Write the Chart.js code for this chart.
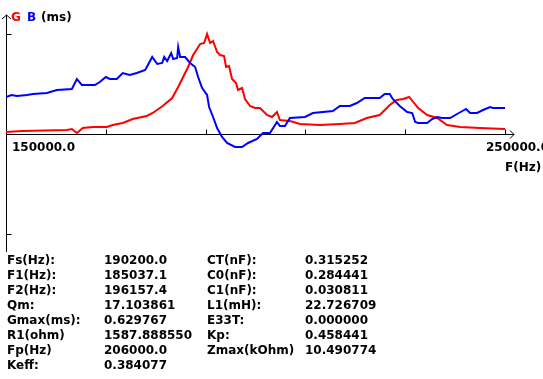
<!DOCTYPE html>
<html lang="en">
<head>
    <meta charset="UTF-8">
    <title>G B (ms)</title>
    <script src="https://cdn.jsdelivr.net/npm/chart.js"></script>
    <style>
        body { margin: 0; background: #fff; }
        #wrap { position: relative; width: 543px; height: 379px; overflow: hidden; }
        .t { position: absolute; font-family: "DejaVu Sans", sans-serif; font-weight: bold; font-size: 12px; color: #000; white-space: nowrap; line-height: 15px; }
        .col { top: 253px; }
    </style>
</head>
<body>
<div id="wrap">
    <canvas id="chart" width="543" height="379"></canvas>

    <!-- titre / axes -->
    <span class="t" style="left:11px;top:10px;color:#ff0000">G</span>
    <span class="t" style="left:27px;top:10px;color:#0000ff">B</span>
    <span class="t" style="left:41px;top:10px">(ms)</span>
    <span class="t" style="left:12px;top:140px">150000.0</span>
    <span class="t" style="left:486px;top:140px">250000.0</span>
    <span class="t" style="left:505px;top:160px">F(Hz)</span>

    <!-- parametres -->
    <div class="t col" style="left:7px" id="lab1"></div>
    <div class="t col" style="left:104px" id="val1"></div>
    <div class="t col" style="left:207px" id="lab2"></div>
    <div class="t col" style="left:305px" id="val2"></div>
</div>

<script>
    // frequences (Hz) et conductance G (unite = graduation)
    const gFreq = [150000, 153200, 162200, 163200, 164200, 165400, 167400, 170200, 171400, 173400,
        175400, 178200, 179400, 181400, 183300, 184500, 185500, 186500, 187500, 188900,
        189700, 190300, 190900, 191500, 192300, 192900, 193700, 194100, 194700, 195300,
        196100, 196500, 197300, 197900, 198900, 199900, 200900, 202300, 203300, 204300,
        204900, 206900, 208900, 212900, 216900, 219900, 222300, 224900, 226900, 228300,
        229600, 230800, 231600, 232600, 234400, 236400, 238400, 241000, 245000, 250000];
    const gValues = [0.02, 0.03, 0.04, 0.05, 0.01, 0.06, 0.07, 0.07, 0.09, 0.11,
        0.15, 0.18, 0.21, 0.28, 0.36, 0.47, 0.57, 0.67, 0.79, 0.90,
        0.91, 1.00, 0.91, 0.93, 0.82, 0.79, 0.78, 0.67, 0.68, 0.55,
        0.51, 0.44, 0.46, 0.35, 0.28, 0.26, 0.26, 0.19, 0.17, 0.22,
        0.14, 0.13, 0.10, 0.09, 0.10, 0.11, 0.16, 0.19, 0.29, 0.34,
        0.35, 0.37, 0.32, 0.26, 0.19, 0.16, 0.09, 0.07, 0.06, 0.05];

    // susceptance B
    const bFreq = [150000, 151100, 152200, 154200, 155400, 158200, 160200, 163200, 164200, 165200,
        167800, 168800, 170000, 170800, 172200, 173400, 174800, 176200, 177900, 179300,
        180300, 181300, 181700, 182300, 183100, 183500, 184300, 184500, 184900, 185900,
        186900, 187900, 188500, 189300, 190300, 190700, 191500, 192300, 193300, 194300,
        195900, 197300, 198500, 200300, 201500, 202900, 204300, 204900, 205900, 206900,
        209900, 211500, 215500, 216900, 218900, 220300, 221900, 224900, 225900, 226900,
        227500, 228900, 230400, 231400, 232000, 232600, 234400, 235400, 236400, 237400,
        239000, 240400, 242200, 243000, 244400, 245600, 247000, 247600, 250000];
    const bValues = [0.37, 0.39, 0.38, 0.39, 0.40, 0.41, 0.44, 0.45, 0.55, 0.49,
        0.49, 0.52, 0.57, 0.55, 0.55, 0.61, 0.59, 0.61, 0.64, 0.77,
        0.70, 0.71, 0.77, 0.73, 0.81, 0.75, 0.76, 0.87, 0.77, 0.77,
        0.71, 0.67, 0.57, 0.46, 0.39, 0.27, 0.17, 0.06, -0.03, -0.09,
        -0.13, -0.13, -0.09, -0.05, 0.01, 0.01, 0.12, 0.08, 0.08, 0.16,
        0.17, 0.21, 0.23, 0.28, 0.28, 0.31, 0.36, 0.36, 0.40, 0.40,
        0.35, 0.28, 0.22, 0.21, 0.12, 0.11, 0.11, 0.15, 0.17, 0.16,
        0.16, 0.20, 0.25, 0.21, 0.21, 0.24, 0.27, 0.26, 0.26];

    const xTicks = [170000, 190000, 210000, 230000, 250000];
    const yTicks = [1, -1];

    const labels1 = ['Fs(Hz):', 'F1(Hz):', 'F2(Hz):', 'Qm:', 'Gmax(ms):', 'R1(ohm)', 'Fp(Hz)', 'Keff:'];
    const values1 = ['190200.0', '185037.1', '196157.4', '17.103861', '0.629767', '1587.888550', '206000.0', '0.384077'];
    const labels2 = ['CT(nF):', 'C0(nF):', 'C1(nF):', 'L1(mH):', 'E33T:', 'Kp:', 'Zmax(kOhm)'];
    const values2 = ['0.315252', '0.284441', '0.030811', '22.726709', '0.000000', '0.458441', '10.490774'];

    document.getElementById('lab1').innerHTML = labels1.join('<br>');
    document.getElementById('val1').innerHTML = values1.join('<br>');
    document.getElementById('lab2').innerHTML = labels2.join('<br>');
    document.getElementById('val2').innerHTML = values2.join('<br>');

    // axes avec fleches
    const axesPlugin = {
        id: 'axes',
        beforeDatasetsDraw(chart) {
            const ctx = chart.ctx;
            const xs = chart.scales.x, ys = chart.scales.y;
            const x0 = Math.round(xs.getPixelForValue(xs.min)) + 0.5;
            const y0 = Math.round(ys.getPixelForValue(0)) + 0.5;
            const top = chart.chartArea.top, bottom = chart.chartArea.bottom;
            const right = xs.getPixelForValue(xs.max);
            ctx.save();
            ctx.strokeStyle = '#000';
            ctx.lineWidth = 1;
            ctx.beginPath();
            ctx.moveTo(x0, top); ctx.lineTo(x0, bottom);
            ctx.moveTo(x0 - 4.5, top + 4); ctx.lineTo(x0, top); ctx.lineTo(x0 + 4.5, top + 4);
            ctx.moveTo(x0, y0); ctx.lineTo(right + 9, y0);
            ctx.moveTo(right + 5, y0 - 4); ctx.lineTo(right + 9, y0); ctx.lineTo(right + 5, y0 + 4);
            xTicks.forEach(v => {
                const px = Math.round(xs.getPixelForValue(v)) + 0.5;
                ctx.moveTo(px, y0); ctx.lineTo(px, y0 - 5);
            });
            yTicks.forEach(v => {
                const py = Math.round(ys.getPixelForValue(v)) + 0.5;
                ctx.moveTo(x0, py); ctx.lineTo(x0 + 5, py);
            });
            ctx.stroke();
            ctx.restore();
        }
    };

    new Chart(document.getElementById('chart'), {
        type: 'line',
        data: {
            datasets: [{
                label: 'B',
                data: bFreq.map((f, i) => ({x: f, y: bValues[i]})),
                borderColor: '#0000ff',
                borderWidth: 2,
                pointRadius: 0,
                tension: 0
            }, {
                label: 'G',
                data: gFreq.map((f, i) => ({x: f, y: gValues[i]})),
                borderColor: '#ff0000',
                borderWidth: 2,
                pointRadius: 0,
                tension: 0
            }]
        },
        options: {
            responsive: false,
            animation: false,
            devicePixelRatio: 1,
            layout: { padding: { left: 6, top: 15, right: 38, bottom: 127 } },
            plugins: { legend: { display: false }, tooltip: { enabled: false } },
            scales: {
                x: { type: 'linear', min: 150000, max: 250000, display: false },
                y: { min: -1.18, max: 1.19, display: false }
            }
        },
        plugins: [axesPlugin]
    });
</script>
</body>
</html>
